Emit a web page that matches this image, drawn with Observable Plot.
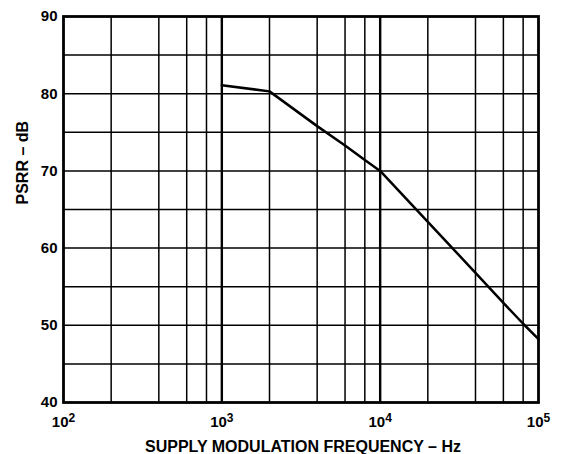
<!DOCTYPE html>
<html>
<head>
<meta charset="utf-8">
<script src="https://cdn.jsdelivr.net/npm/d3@7"></script>
<script src="https://cdn.jsdelivr.net/npm/@observablehq/plot@0.6"></script>
<style>
  html, body { margin: 0; padding: 0; background: #fff; }
</style>
</head>
<body>
<div id="chart"></div>
<script>
// Data
const freq = [1000, 2000, 4000, 6000, 8000, 10000, 20000, 40000, 60000, 80000, 100000];
const psrr = [81.1, 80.3, 75.8, 73.3, 71.4, 70.0, 63.4, 56.8, 52.9, 50.2, 48.2];

const xTicks = [100, 1000, 10000, 100000];
const yTicks = [40, 50, 60, 70, 80, 90];
const xMinorGrid = [200, 400, 600, 800, 2000, 4000, 6000, 8000, 20000, 40000, 60000, 80000];
const xMajorGrid = [1000, 10000];
const yGrid = [45, 50, 55, 60, 65, 70, 75, 80, 85];

const xLabel = "SUPPLY MODULATION FREQUENCY – Hz";
const yLabel = "PSRR – dB";

const table = freq.map((f, i) => ({f, p: psrr[i]}));

const chart = Plot.plot({
  width: 565,
  height: 454,
  marginLeft: 63,
  marginRight: 27,
  marginTop: 16,
  marginBottom: 52,
  style: {fontFamily: "'Liberation Sans', Arial, sans-serif", fontWeight: "bold", background: "#fff", color: "#000"},
  x: {type: "log", domain: [100, 100000]},
  y: {domain: [40, 90]},
  marks: [
    Plot.ruleX(xMinorGrid, {stroke: "#000", strokeWidth: 1.5}),
    Plot.ruleX(xMajorGrid, {stroke: "#000", strokeWidth: 2.4}),
    Plot.ruleY(yGrid, {stroke: "#000", strokeWidth: 1.5}),
    Plot.frame({stroke: "#000", strokeWidth: 2.8}),
    Plot.line(table, {x: "f", y: "p", stroke: "#000", strokeWidth: 2.5}),
    Plot.axisX(xTicks, {tickSize: 0, tickPadding: 14, fontSize: 15, label: null,
      tickFormat: d => "10^" + Math.round(Math.log10(d))}),
    Plot.axisY(yTicks, {tickSize: 0, tickPadding: 6, fontSize: 15, label: null}),
    Plot.text([xLabel], {text: d => d, frameAnchor: "bottom", lineAnchor: "middle", dx: 2, dy: 44, fontSize: 16, fontWeight: "bold"}),
    Plot.text([yLabel], {text: d => d, frameAnchor: "left", lineAnchor: "middle", rotate: -90, dx: -41, dy: -5, fontSize: 16, fontWeight: "bold"})
  ]
});

// Render exponents as superscripts
chart.querySelectorAll("text").forEach(t => {
  const s = t.textContent;
  if (s.includes("^")) {
    const [base, exp] = s.split("^");
    t.textContent = "";
    t.appendChild(document.createTextNode(base));
    const ts = document.createElementNS("http://www.w3.org/2000/svg", "tspan");
    ts.setAttribute("dy", "-0.4em");
    ts.setAttribute("font-size", "0.8em");
    ts.textContent = exp;
    t.appendChild(ts);
  }
});

document.getElementById("chart").appendChild(chart);
</script>
</body>
</html>
